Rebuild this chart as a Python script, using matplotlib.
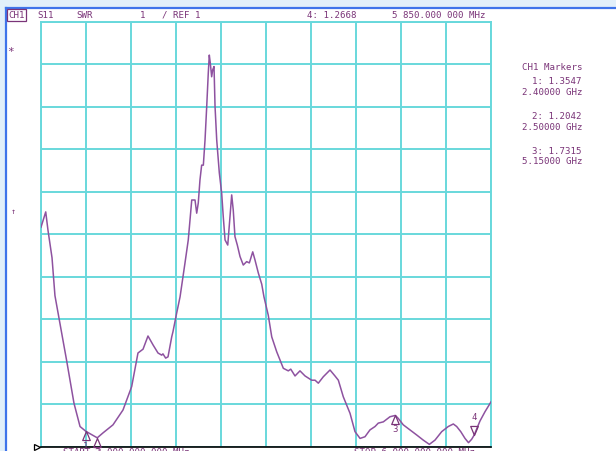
import matplotlib
matplotlib.use("Agg")
import matplotlib.pyplot as plt
from matplotlib.path import Path
from matplotlib.patches import Rectangle
from matplotlib.lines import Line2D

# trace: frequency (GHz) and SWR
freq = [2.000, 2.042, 2.062, 2.098, 2.124, 2.198, 2.228, 2.293, 2.347, 2.400,
        2.500, 2.551, 2.640, 2.729, 2.806, 2.862, 2.907, 2.951, 2.996, 3.040,
        3.073, 3.084, 3.108, 3.129, 3.162, 3.173, 3.206, 3.236, 3.280, 3.309,
        3.340, 3.369, 3.384, 3.398, 3.413, 3.428, 3.443, 3.458, 3.473, 3.487,
        3.496, 3.505, 3.517, 3.526, 3.538, 3.547, 3.562, 3.585, 3.606, 3.620,
        3.636, 3.660, 3.680, 3.695, 3.709, 3.724, 3.745, 3.769, 3.798, 3.828,
        3.852, 3.882, 3.902, 3.932, 3.962, 3.982, 4.020, 4.051, 4.095, 4.154,
        4.198, 4.220, 4.258, 4.302, 4.347, 4.406, 4.436, 4.465, 4.509, 4.569,
        4.613, 4.643, 4.687, 4.747, 4.791, 4.836, 4.880, 4.924, 4.969, 4.998,
        5.043, 5.102, 5.150, 5.176, 5.220, 5.280, 5.340, 5.398, 5.452, 5.502,
        5.562, 5.620, 5.665, 5.695, 5.731, 5.769, 5.800, 5.828, 5.850, 5.880,
        5.902, 5.947, 6.000]
swr = [6.16, 6.52, 6.09, 5.44, 4.55, 3.46, 3.02, 2.02, 1.47, 1.355,
       1.204, 1.32, 1.51, 1.86, 2.41, 3.20, 3.29, 3.60, 3.39, 3.20,
       3.15, 3.18, 3.08, 3.11, 3.58, 3.70, 4.14, 4.52, 5.32, 5.86,
       6.80, 6.80, 6.49, 6.73, 7.27, 7.62, 7.62, 8.21, 9.00, 9.79,
       10.21, 10.02, 9.70, 9.86, 9.94, 9.00, 8.21, 7.44, 6.96, 6.41,
       5.86, 5.74, 6.41, 6.92, 6.56, 5.94, 5.74, 5.47, 5.27, 5.35,
       5.32, 5.58, 5.39, 5.08, 4.82, 4.52, 4.09, 3.58, 3.23, 2.84,
       2.78, 2.82, 2.66, 2.78, 2.66, 2.56, 2.56, 2.49, 2.64, 2.80,
       2.66, 2.56, 2.17, 1.78, 1.35, 1.19, 1.23, 1.39, 1.47, 1.55,
       1.58, 1.70, 1.7315, 1.66, 1.51, 1.39, 1.27, 1.15, 1.05, 1.15,
       1.35, 1.47, 1.53, 1.47, 1.35, 1.19, 1.09, 1.17, 1.2668, 1.46,
       1.60, 1.82, 2.05]

mk_num = ["1", "2", "3", "4"]
mk_freq = [2.40, 2.50, 5.15, 5.85]
mk_swr = [1.3547, 1.2042, 1.7315, 1.2668]
mk_ghz = ["2.40000 GHz", "2.50000 GHz", "5.15000 GHz"]

start_ghz, stop_ghz = 2.0, 6.0
ref_val, per_div = 1, 1

W, H = 616, 451
grid_c = "#68d8dc"
trace_c = "#8e52a0"
txt_c = "#7a3478"
mono = "DejaVu Sans Mono"

fig = plt.figure(figsize=(W / 100, H / 100), dpi=100)
fig.patch.set_facecolor("#e2f0fa")

def px(x, y):
    return x / W, 1 - y / H

# white screen area with blue window frame
fig.patches.append(Rectangle(px(7, H), (W - 7) / W, (H - 9) / H,
                             transform=fig.transFigure, fc="white", ec="none", zorder=-5))
fig.lines.append(Line2D([6 / W, 6 / W], [0, 1 - 8 / H], transform=fig.transFigure,
                        color="#3f74ea", lw=1.6, zorder=-4))
fig.lines.append(Line2D([6 / W, 1], [1 - 8 / H, 1 - 8 / H], transform=fig.transFigure,
                        color="#3f74ea", lw=1.6, zorder=-4))

ax = fig.add_axes([41 / W, 4.5 / H, 450 / W, 425 / H])
ax.set_zorder(1)
ax.set_facecolor("white")
ax.set_xlim(start_ghz, stop_ghz)
ax.set_ylim(ref_val, ref_val + 10 * per_div)
ax.set_xticks([start_ghz + i * (stop_ghz - start_ghz) / 10 for i in range(11)])
ax.set_yticks([ref_val + i * per_div for i in range(11)])
ax.tick_params(length=0, labelbottom=False, labelleft=False)
ax.grid(True, color=grid_c, lw=1.4)
ax.set_axisbelow(True)
for s in ["top", "left", "right"]:
    ax.spines[s].set_color(grid_c)
    ax.spines[s].set_linewidth(1.4)
ax.spines["bottom"].set_color("black")
ax.spines["bottom"].set_linewidth(1.2)

ax.plot(freq, swr, color=trace_c, lw=1.1, zorder=3)

# marker triangles, tip on the trace
up = Path([(0, 0), (-0.42, -1), (0.42, -1), (0, 0)])
down = Path([(0, 0), (-0.42, 1), (0.42, 1), (0, 0)])
for n, f, v in zip(mk_num, mk_freq, mk_swr):
    if n == "4":
        ax.plot([f], [v], marker=down, ms=13, mfc="none", mec=txt_c, mew=0.9,
                clip_on=False, zorder=4)
        ax.annotate(n, (f, v), xytext=(0, 13), textcoords="offset points",
                    ha="center", va="center", fontsize=6.5, family=mono, color=txt_c)
    else:
        ax.plot([f], [v], marker=up, ms=13, mfc="none", mec=txt_c, mew=0.9,
                clip_on=False, zorder=4)
        ax.annotate(n, (f, v), xytext=(0, -10.5), textcoords="offset points",
                    ha="center", va="center", fontsize=6.5, family=mono, color=txt_c,
                    annotation_clip=False)

# reference position marker
ax.plot([start_ghz - 0.035], [ref_val], marker=">", ms=5, mfc="white", mec="black",
        mew=0.9, clip_on=False, zorder=5)

fs = 6.6
fig.text(*px(8, 15), "CH1", fontsize=fs, family=mono, color=txt_c, va="center",
         bbox=dict(boxstyle="square,pad=0.12", fc="none", ec=txt_c, lw=0.9))
fig.text(*px(37, 15), "S11", fontsize=fs, family=mono, color=txt_c, va="center")
fig.text(*px(76, 15), "SWR", fontsize=fs, family=mono, color=txt_c, va="center")
fig.text(*px(140, 15), "%d   / REF %d" % (per_div, ref_val), fontsize=fs, family=mono,
         color=txt_c, va="center")
fig.text(*px(307, 15), "4: %.4f" % mk_swr[3], fontsize=fs, family=mono, color=txt_c,
         va="center")
fig.text(*px(392, 15), "5 850.000 000 MHz", fontsize=fs, family=mono, color=txt_c,
         va="center")

fig.text(*px(583, 68), "CH1 Markers", fontsize=fs, family=mono, color=txt_c,
         va="center", ha="right")
for i in range(3):
    y0 = 82 + i * 34.5
    fig.text(*px(581, y0), "%s: %.4f" % (mk_num[i], mk_swr[i]), fontsize=fs,
             family=mono, color=txt_c, va="center", ha="right")
    fig.text(*px(583, y0 + 10.5), mk_ghz[i], fontsize=fs, family=mono, color=txt_c,
             va="center", ha="right")

fig.text(*px(7, 52), "*", fontsize=8, family=mono, color=txt_c, va="center")
fig.text(*px(11, 212), "\u2191", fontsize=6, family=mono, color=txt_c, va="center")

fig.text(*px(63, 448), "START 2 000.000 000 MHz", fontsize=fs, family=mono,
         color=txt_c, va="top")
fig.text(*px(354, 448), "STOP 6 000.000 000 MHz", fontsize=fs, family=mono,
         color=txt_c, va="top")

fig.savefig("out.png", dpi=100, facecolor=fig.get_facecolor())
